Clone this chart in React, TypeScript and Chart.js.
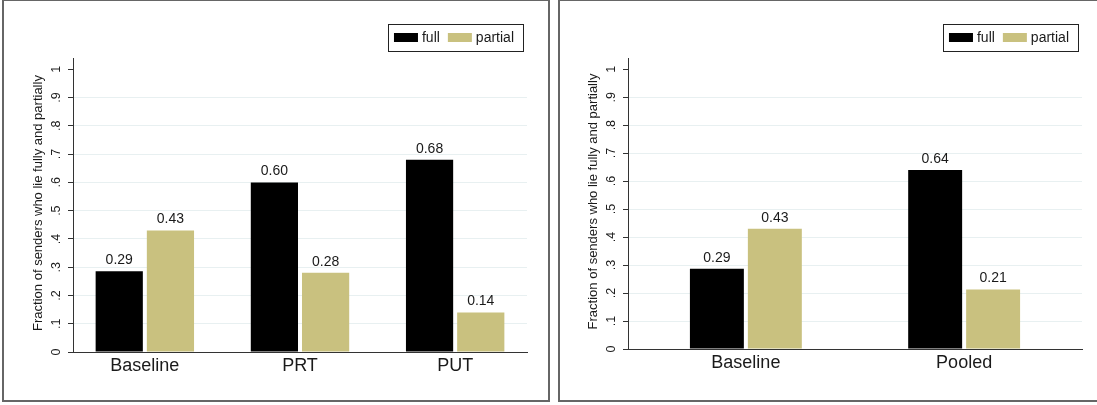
import React, { useEffect, useRef } from "react";
import { Chart, registerables } from "chart.js";

Chart.register(...registerables);

// ---------------- data ----------------
const seriesNames = ["full", "partial"];
const seriesColors = ["#000000", "#c9c17f"];

const leftCategories = ["Baseline", "PRT", "PUT"];
const leftFull = [0.286, 0.6, 0.68];
const leftPartial = [0.43, 0.28, 0.14];

const rightCategories = ["Baseline", "Pooled"];
const rightFull = [0.287, 0.64];
const rightPartial = [0.43, 0.213];

const yTickValues = [0, 0.1, 0.2, 0.3, 0.4, 0.5, 0.6, 0.7, 0.8, 0.9, 1];
const yTickLabels = ["0", ".1", ".2", ".3", ".4", ".5", ".6", ".7", ".8", ".9", "1"];
const yTitle = "Fraction of senders who lie fully and partially";

const FONT = '"Liberation Sans", Arial, Helvetica, sans-serif';
const TEXT = "#1a1a1a";

// ---------------- plugins ----------------
const axisTextPlugin = {
  id: "axisText",
  afterDraw(chart: any) {
    const ctx = chart.ctx;
    const ys = chart.scales.y;
    const area = chart.chartArea;
    ctx.save();
    ctx.fillStyle = TEXT;
    ctx.textAlign = "center";
    ctx.textBaseline = "middle";
    ctx.font = `12.5px ${FONT}`;
    yTickValues.forEach((v, i) => {
      const y = ys.getPixelForValue(v);
      ctx.save();
      ctx.translate(area.left - 16, y);
      ctx.rotate(-Math.PI / 2);
      ctx.fillText(yTickLabels[i], 0, 0);
      ctx.restore();
    });
    ctx.font = `13px ${FONT}`;
    ctx.save();
    ctx.translate(area.left - 35, (area.top + area.bottom) / 2 - 2);
    ctx.rotate(-Math.PI / 2);
    ctx.fillText(yTitle, 0, 0);
    ctx.restore();
    ctx.restore();
  },
};

const valueLabelPlugin = {
  id: "valueLabels",
  afterDatasetsDraw(chart: any) {
    const ctx = chart.ctx;
    ctx.save();
    ctx.fillStyle = TEXT;
    ctx.font = `14px ${FONT}`;
    ctx.textAlign = "center";
    ctx.textBaseline = "bottom";
    chart.data.datasets.forEach((ds: any, i: number) => {
      const meta = chart.getDatasetMeta(i);
      meta.data.forEach((bar: any, j: number) => {
        const v = ds.data[j].y;
        ctx.fillText(v.toFixed(2), bar.x, bar.y - 4);
      });
    });
    ctx.restore();
  },
};

const boxLegendPlugin = {
  id: "boxLegend",
  afterDraw(chart: any) {
    const ctx = chart.ctx;
    const area = chart.chartArea;
    ctx.save();
    ctx.font = `14px ${FONT}`;
    const padL = 6, sw = 24, gapT = 4, gapItem = 8, padR = 9;
    const items = chart.data.datasets.map((d: any) => ({
      label: d.label,
      color: d.backgroundColor,
      w: ctx.measureText(d.label).width,
    }));
    let total = padL + padR;
    items.forEach((it: any, i: number) => {
      total += sw + gapT + it.w + (i < items.length - 1 ? gapItem : 0);
    });
    const right = area.right - 4;
    const left = right - total;
    const top = area.top - 34;
    const h = 27;
    ctx.fillStyle = "#ffffff";
    ctx.fillRect(left, top, total, h);
    ctx.strokeStyle = "#222";
    ctx.lineWidth = 1;
    ctx.strokeRect(Math.round(left) + 0.5, top + 0.5, Math.round(total), h);
    let x = left + padL;
    ctx.textAlign = "left";
    ctx.textBaseline = "middle";
    items.forEach((it: any) => {
      ctx.fillStyle = it.color;
      ctx.fillRect(x, top + 9, sw, 9);
      x += sw + gapT;
      ctx.fillStyle = TEXT;
      ctx.fillText(it.label, x, top + 14);
      x += it.w + gapItem;
    });
    ctx.restore();
  },
};

// ---------------- panel ----------------
type PanelCfg = {
  categories: string[];
  full: number[];
  partial: number[];
  divLeft: number;
  divWidth: number;
  plotLeft: number;
  plotRight: number;
  plotTop: number;
  plotBottom: number;
  edgeFrac: number;
  catPct: number;
  barPct: number;
};

const DIV_TOP = -1;
const DIV_HEIGHT = 403;
const BORDER = 2;

function Panel({ cfg }: { cfg: PanelCfg }) {
  const ref = useRef<HTMLCanvasElement>(null);
  const innerLeft = cfg.divLeft + BORDER;
  const innerTop = DIV_TOP + BORDER;
  const cw = cfg.divWidth - 2 * BORDER;
  const ch = DIV_HEIGHT - 2 * BORDER;

  useEffect(() => {
    const n = cfg.categories.length;
    const chart = new Chart(ref.current as HTMLCanvasElement, {
      type: "bar",
      data: {
        datasets: [
          {
            label: seriesNames[0],
            data: cfg.full.map((v, i) => ({ x: i, y: v })),
            backgroundColor: seriesColors[0],
            borderWidth: 0,
            categoryPercentage: cfg.catPct,
            barPercentage: cfg.barPct,
          },
          {
            label: seriesNames[1],
            data: cfg.partial.map((v, i) => ({ x: i, y: v })),
            backgroundColor: seriesColors[1],
            borderWidth: 0,
            categoryPercentage: cfg.catPct,
            barPercentage: cfg.barPct,
          },
        ],
      } as any,
      options: {
        responsive: false,
        animation: false,
        events: [],
        layout: {
          padding: {
            top: cfg.plotTop - innerTop,
            right: cw - (cfg.plotRight - innerLeft),
            left: 0,
            bottom: 0,
          },
        },
        plugins: {
          legend: { display: false },
          tooltip: { enabled: false },
        },
        scales: {
          x: {
            type: "linear",
            offset: false,
            min: -cfg.edgeFrac,
            max: n - 1 + cfg.edgeFrac,
            afterBuildTicks: (s: any) => {
              s.ticks = cfg.categories.map((_, i) => ({ value: i }));
            },
            afterFit: (s: any) => {
              s.height = ch - (cfg.plotBottom - innerTop);
            },
            grid: { display: false, drawTicks: false, offset: false },
            border: { display: true, color: "#333", width: 1 },
            ticks: {
              autoSkip: false,
              maxRotation: 0,
              minRotation: 0,
              padding: 3,
              color: TEXT,
              font: { family: FONT, size: 18 },
              callback: (v: any) => cfg.categories[Math.round(Number(v))] ?? "",
            },
          },
          y: {
            type: "linear",
            min: 0,
            max: 1.04,
            afterBuildTicks: (s: any) => {
              s.ticks = yTickValues.map((v) => ({ value: v }));
            },
            afterFit: (s: any) => {
              s.width = cfg.plotLeft - innerLeft;
            },
            ticks: { display: false },
            grid: {
              color: (c: any) =>
                c.tick && (c.tick.value === 0 || c.tick.value === 1)
                  ? "rgba(0,0,0,0)"
                  : "#e8f0f1",
              lineWidth: 1,
              drawTicks: true,
              tickLength: 5,
              tickColor: "#333",
            },
            border: { display: true, color: "#333", width: 1 },
          },
        },
      } as any,
      plugins: [axisTextPlugin, valueLabelPlugin, boxLegendPlugin],
    });
    return () => chart.destroy();
  }, []);

  return (
    <div
      style={{
        position: "absolute",
        left: cfg.divLeft,
        top: DIV_TOP,
        width: cfg.divWidth,
        height: DIV_HEIGHT,
        border: `${BORDER}px solid #666`,
        boxSizing: "border-box",
        background: "#fff",
      }}
    >
      <canvas
        ref={ref}
        width={cw}
        height={ch}
        style={{ display: "block", width: cw, height: ch }}
      />
    </div>
  );
}

const leftCfg: PanelCfg = {
  categories: leftCategories,
  full: leftFull,
  partial: leftPartial,
  divLeft: 2,
  divWidth: 548,
  plotLeft: 73,
  plotRight: 527,
  plotTop: 58,
  plotBottom: 352,
  edgeFrac: 0.463,
  catPct: 0.66,
  barPct: 0.922,
};

const rightCfg: PanelCfg = {
  categories: rightCategories,
  full: rightFull,
  partial: rightPartial,
  divLeft: 558,
  divWidth: 545,
  plotLeft: 628,
  plotRight: 1082,
  plotTop: 58,
  plotBottom: 349,
  edgeFrac: 0.54,
  catPct: 0.531,
  barPct: 0.931,
};

export default function App() {
  return (
    <div
      style={{
        position: "fixed",
        left: 0,
        top: 0,
        width: 1097,
        height: 405,
        overflow: "hidden",
        background: "#fff",
      }}
    >
      <Panel cfg={leftCfg} />
      <Panel cfg={rightCfg} />
    </div>
  );
}
